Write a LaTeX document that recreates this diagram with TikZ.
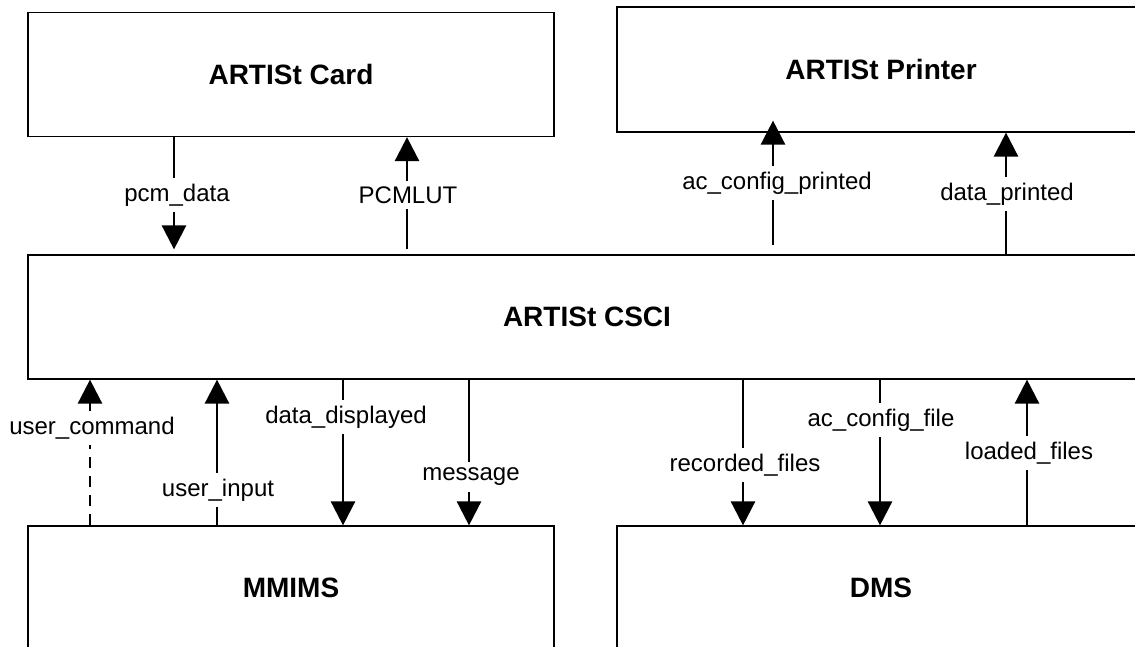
\documentclass[tikz,border=0pt]{standalone}
\usepackage{fontspec}
\setmainfont{Liberation Sans}
\usetikzlibrary{arrows.meta}
\begin{document}
\begin{tikzpicture}[x=0.5pt,y=-0.5pt,
  box/.style={draw, line width=0.6pt, minimum width=263pt, minimum height=62pt, inner sep=0pt,
    font=\bfseries\fontsize{14}{17}\selectfont},
  flow/.style={line width=1.3pt, -{Triangle[length=12pt,width=12pt]}},
  dashflow/.style={flow, dash pattern=on 5.5pt off 4pt},
  lbl/.style={fill=white, inner xsep=1pt, inner ysep=3pt, font=\fontsize{12}{14}\selectfont}]
\useasboundingbox (0,0) rectangle (1135,647);
\clip (0,0) rectangle (1135,647);

% boxes
\node[box] (card) at (291,74.5) {ARTISt Card};
\node[box, minimum width=264pt, minimum height=62.5pt] (printer) at (881,69.5) {ARTISt Printer};
\node[box, minimum width=559pt] (csci) at (587,317) {ARTISt CSCI};
\node[box] (mmims) at (291,588) {MMIMS};
\node[box, minimum width=264pt] (dms) at (881,588) {DMS};

% x positions of connectors
\coordinate (xpcm) at (174,0);
\coordinate (xlut) at (407,0);
\coordinate (xacp) at (773,0);
\coordinate (xdp) at (1006,0);
\coordinate (xuc) at (90,0);
\coordinate (xui) at (217,0);
\coordinate (xdd) at (343,0);
\coordinate (xmsg) at (469,0);
\coordinate (xrf) at (743,0);
\coordinate (xacf) at (880,0);
\coordinate (xlf) at (1027,0);

% connectors
\draw[flow, shorten >=2.5pt] (card.south -| xpcm) -- (csci.north -| xpcm);
\draw[flow, shorten <=2.5pt] (csci.north -| xlut) -- (card.south -| xlut);
\draw[flow, shorten <=4.5pt, shorten >=-6pt] (csci.north -| xacp) -- (printer.south -| xacp);
\draw[flow, shorten <=-1pt] (csci.north -| xdp) -- (printer.south -| xdp);
\draw[dashflow] (mmims.north -| xuc) -- (csci.south -| xuc);
\draw[flow] (mmims.north -| xui) -- (csci.south -| xui);
\draw[flow] (csci.south -| xdd) -- (mmims.north -| xdd);
\draw[flow] (csci.south -| xmsg) -- (mmims.north -| xmsg);
\draw[flow] (csci.south -| xrf) -- (dms.north -| xrf);
\draw[flow] (csci.south -| xacf) -- (dms.north -| xacf);
\draw[flow] (dms.north -| xlf) -- (csci.south -| xlf);

% labels
\node[lbl] (lpcm) at (177,195) {pcm\_data};
\node[lbl] (llut) at (408,195) {PCMLUT};
\node[lbl] (lacp) at (777,183) {ac\_config\_printed};
\node[lbl] (ldp) at (1007,194) {data\_printed};
\node[lbl] (luc) at (92,428) {user\_command};
\node[lbl] (lui) at (218,490) {user\_input};
\node[lbl] (ldd) at (346,417) {data\_displayed};
\node[lbl] (lmsg) at (471,477) {message};
\node[lbl] (lrf) at (745,465) {recorded\_files};
\node[lbl] (lacf) at (881,420) {ac\_config\_file};
\node[lbl] (llf) at (1029,453) {loaded\_files};
\end{tikzpicture}
\end{document}
